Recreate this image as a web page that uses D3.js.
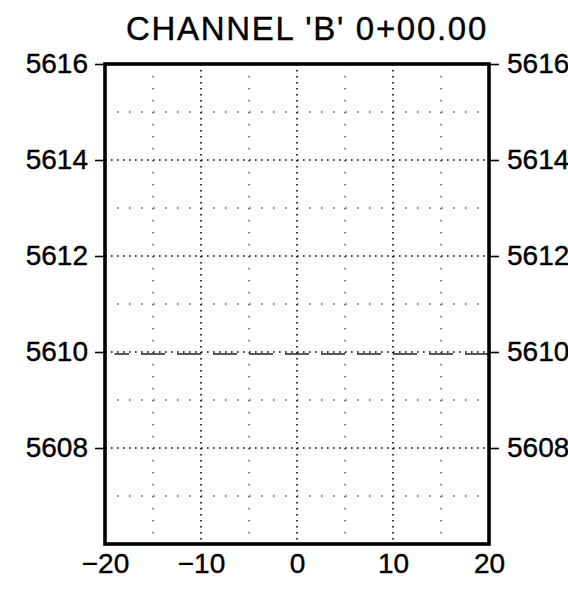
<!DOCTYPE html>
<html>
<head>
<meta charset="utf-8">
<script src="https://cdn.jsdelivr.net/npm/d3@7"></script>
<style>
  body { margin: 0; background: #fff; }
  svg text { font-family: "Liberation Sans", Arial, sans-serif; fill: #000; }
</style>
</head>
<body>
<script>
(()=>{
    const width = 568;
    const height = 592;
    const marginTop = 64;
    const marginRight = 79;
    const marginBottom = 48;
    const marginLeft = 105;

    // chart values
    const title = "CHANNEL 'B' 0+00.00";
    const xDomain = [-20, 20];
    const yDomain = [5606, 5616];
    const xTicks = [-20, -10, 0, 10, 20];
    const yTicks = [5608, 5610, 5612, 5614, 5616];
    const xMajorGrid = [-10, 0, 10];
    const xMinorGrid = [-15, -5, 5, 15];
    const yMajorGrid = [5608, 5610, 5612, 5614];
    const yMinorGrid = [5607, 5609, 5611, 5613, 5615];
    // water surface, drawn right to left
    const waterX = [20, -19];
    const waterY = [5609.96, 5609.96];

    const x = d3.scaleLinear()
        .domain(xDomain)
        .range([marginLeft, width - marginRight]);

    const y = d3.scaleLinear()
        .domain(yDomain)
        .range([height - marginBottom, marginTop]);

    const svg = d3.create("svg")
        .attr("width", width)
        .attr("height", height)
        .attr("viewBox", [0, 0, width, height]);

    // grid lines (dotted)
    const grid = svg.append("g").attr("fill", "none");

    const vLine = v => d3.line()([[x(v), y(yDomain[1])], [x(v), y(yDomain[0])]]);
    const hLine = v => d3.line()([[x(xDomain[0]), y(v)], [x(xDomain[1]), y(v)]]);

    grid.selectAll(".vmin").data(xMinorGrid).join("path")
        .attr("d", vLine)
        .attr("stroke", "#555").attr("stroke-width", 1.4)
        .attr("stroke-dasharray", "1.4,10.6");

    grid.selectAll(".hmin").data(yMinorGrid).join("path")
        .attr("d", hLine)
        .attr("stroke", "#555").attr("stroke-width", 1.4)
        .attr("stroke-dasharray", "1.4,10.6");

    grid.selectAll(".vmaj").data(xMajorGrid).join("path")
        .attr("d", vLine)
        .attr("stroke", "#000").attr("stroke-width", 1.6)
        .attr("stroke-dasharray", "1.6,4.4");

    grid.selectAll(".hmaj").data(yMajorGrid).join("path")
        .attr("d", hLine)
        .attr("stroke", "#000").attr("stroke-width", 1.6)
        .attr("stroke-dasharray", "1.6,4.4");

    // water surface (dashed)
    svg.append("path")
        .datum(waterX.map((d, i) => [d, waterY[i]]))
        .attr("fill", "none")
        .attr("stroke", "#222")
        .attr("stroke-width", 1.5)
        .attr("stroke-dasharray", "24,12")
        .attr("d", d3.line().x(d => x(d[0])).y(d => y(d[1])));

    // axes
    const styleAxis = g => {
        g.select(".domain").remove();
        g.selectAll(".tick line").attr("stroke", "#000").attr("stroke-width", 1.6);
        g.selectAll(".tick text").attr("font-size", 28).attr("fill", "#000")
            .attr("stroke", "#000").attr("stroke-width", 0.4)
            .attr("font-family", "'Liberation Sans', Arial, sans-serif");
    };

    svg.append("g")
        .attr("transform", `translate(${marginLeft},0)`)
        .call(d3.axisLeft(y).tickValues(yTicks).tickSize(10).tickPadding(7).tickFormat(d3.format("d")))
        .call(styleAxis);

    svg.append("g")
        .attr("transform", `translate(${width - marginRight},0)`)
        .call(d3.axisRight(y).tickValues(yTicks).tickSize(10).tickPadding(8).tickFormat(d3.format("d")))
        .call(styleAxis);

    svg.append("g")
        .attr("transform", `translate(0,${height - marginBottom})`)
        .call(d3.axisBottom(x).tickValues(xTicks).tickSize(0).tickPadding(9))
        .call(styleAxis);

    // frame
    svg.append("rect")
        .attr("x", x(xDomain[0]))
        .attr("y", y(yDomain[1]))
        .attr("width", x(xDomain[1]) - x(xDomain[0]))
        .attr("height", y(yDomain[0]) - y(yDomain[1]))
        .attr("fill", "none")
        .attr("stroke", "#000")
        .attr("stroke-width", 3.6);

    // title
    svg.append("text")
        .attr("x", 126)
        .attr("y", 40)
        .attr("font-size", 33)
        .attr("letter-spacing", 1.7)
        .attr("stroke", "#000")
        .attr("stroke-width", 0.4)
        .text(title);

    d3.select("body").append(() => svg.node());
})()
</script>
</body>
</html>
